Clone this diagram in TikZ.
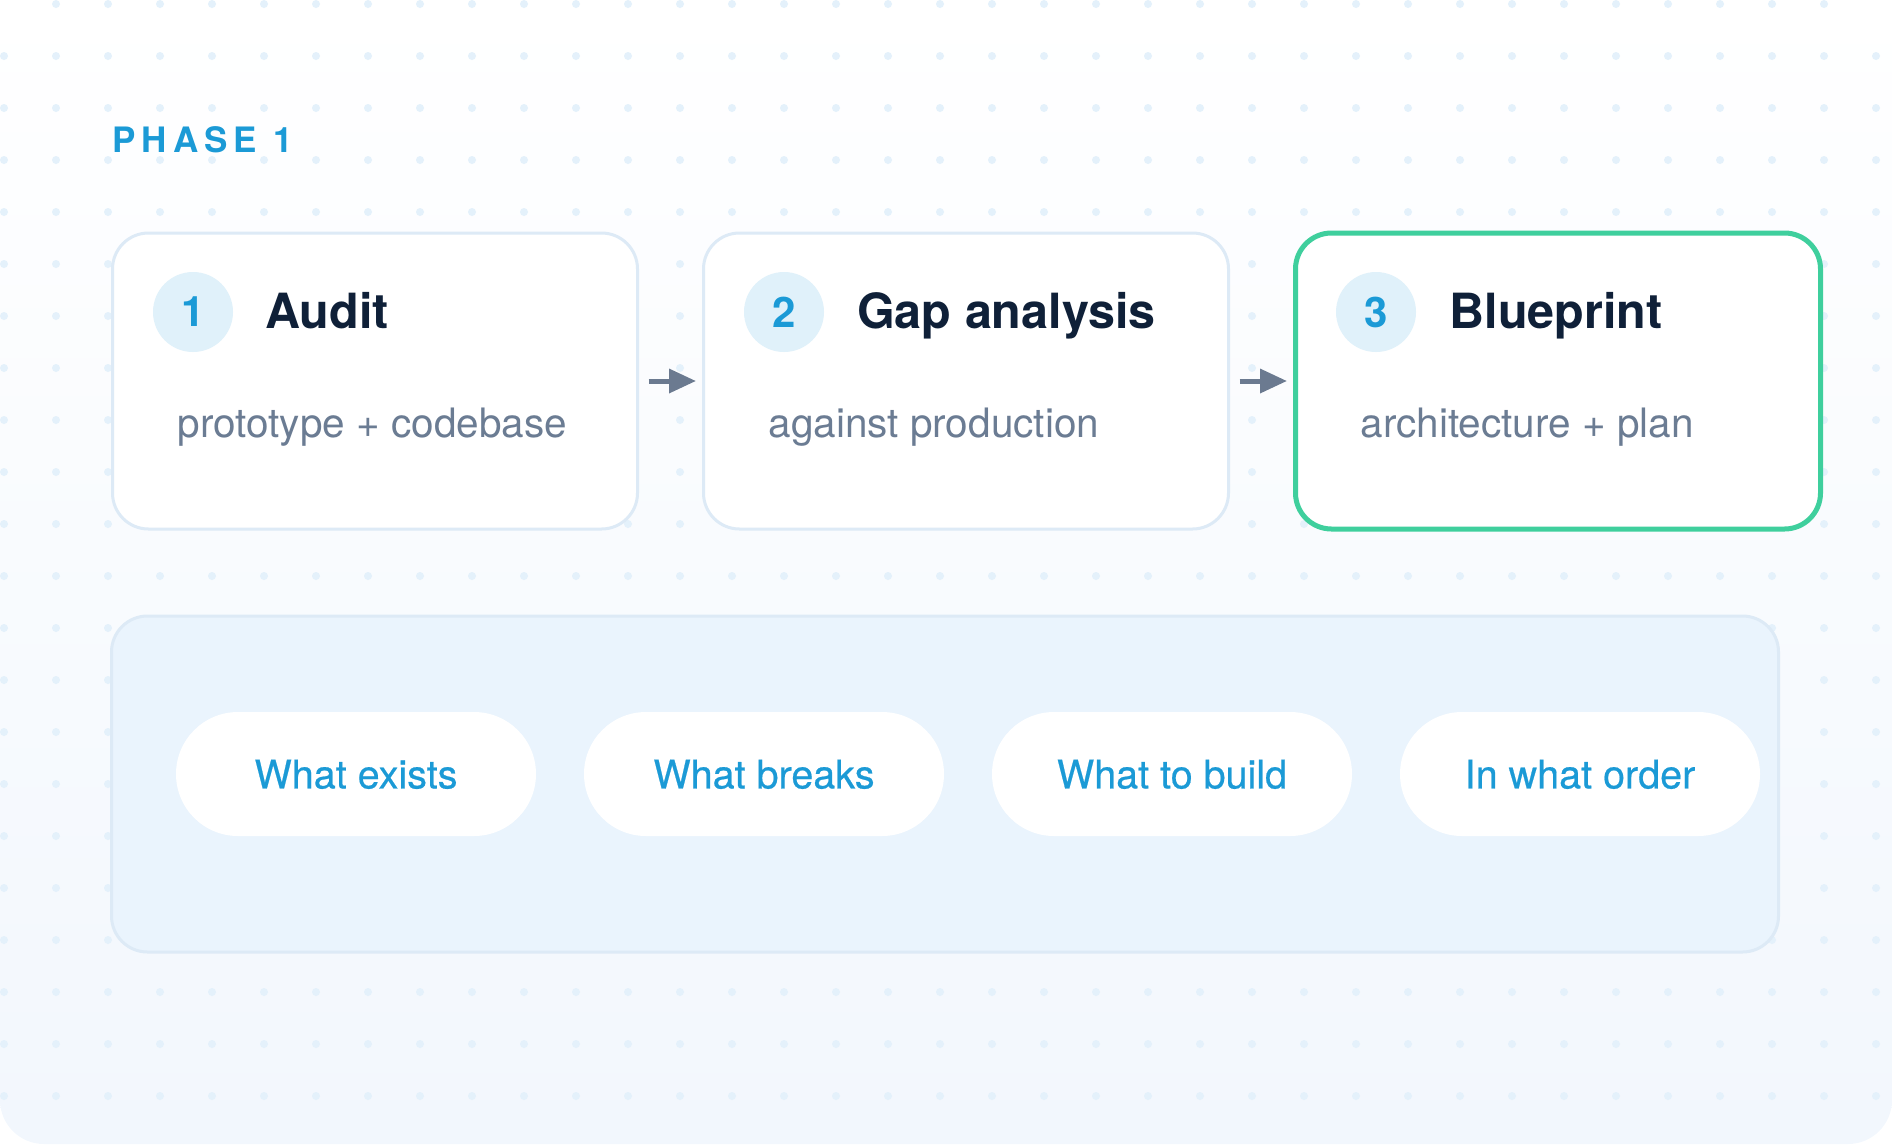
\documentclass[tikz,border=0pt]{standalone}
\usepackage{fontspec}
\setmainfont{TeX Gyre Heros}
\newfontfamily\phasefont{TeX Gyre Heros}[LetterSpace=17.5]
\newfontfamily\pillfont{TeX Gyre Heros}[FakeBold=0.5]
\usetikzlibrary{arrows.meta}

\definecolor{accent}{HTML}{1B9AD6}
\definecolor{ink}{HTML}{0F2038}
\definecolor{muted}{HTML}{6B7C93}
\definecolor{numfill}{HTML}{E0F1FA}
\definecolor{boxline}{HTML}{DDEAF6}
\definecolor{done}{HTML}{3FCF9D}
\definecolor{arrowgrey}{HTML}{6B7A90}
\definecolor{panelfill}{HTML}{EAF4FD}
\definecolor{griddot}{HTML}{E4F1FB}
\definecolor{backlow}{HTML}{F2F7FD}

\tikzset{
  phaselabel/.style={anchor=base west,inner sep=0pt,text=accent,
    font=\phasefont\bfseries\fontsize{35}{40}\selectfont},
  stagebox/.style={draw=boxline,line width=3pt,fill=white,rounded corners=36pt,
    minimum width=525pt,minimum height=296pt,inner sep=0pt},
  numdot/.style={circle,fill=numfill,minimum size=80pt,inner sep=0pt,text=accent,
    font=\bfseries\fontsize{42}{46}\selectfont},
  stagetitle/.style={anchor=base west,inner sep=0pt,text=ink,
    font=\bfseries\fontsize{48.5}{52}\selectfont},
  stagenote/.style={anchor=base west,inner sep=0pt,text=muted,
    font=\fontsize{40.5}{44}\selectfont},
  stagearrow/.style={draw=arrowgrey,line width=5pt,shorten <=9.5pt,shorten >=6pt,
    -{Triangle[length=27pt,width=23.5pt]}},
  panelbox/.style={draw=boxline,line width=3pt,fill=panelfill,rounded corners=36pt,
    minimum width=1667pt,minimum height=336pt,inner sep=0pt},
  pill/.style={fill=white,rounded corners=62pt,minimum width=360pt,minimum height=124pt,
    inner sep=0pt,text=accent,text depth=0pt,font=\pillfont\fontsize{39.5}{44}\selectfont}
}

\begin{document}
\begin{tikzpicture}[x=1pt,y=-1pt]
   \useasboundingbox (0,0) rectangle (1892,1144);
   % backdrop with dot grid
   \shade[top color=white,bottom color=backlow,rounded corners=44pt] (0,0) rectangle (1892,1144);
   \begin{scope}
     \clip[rounded corners=44pt] (0,0) rectangle (1892,1144);
     \foreach \i in {0,...,36}
       \foreach \j in {0,...,21}
         \fill[griddot] (4+52*\i,4+52*\j) circle (4pt);
   \end{scope}

   \path (112,152.5) node[phaselabel] (phase) {PHASE 1};

   % stages
   \path (375,381) node[stagebox] (audit) {};
   \path (966,381) node[stagebox] (gap) {};
   \path (1558,381) node[stagebox,draw=done,line width=5pt] (blueprint) {};

   \path (193,312) node[numdot] (n1) {1};
   \path (265,328.5) node[stagetitle] (t1) {Audit};
   \path (177.5,437) node[stagenote] (s1) {prototype + codebase};

   \path (784,312) node[numdot] (n2) {2};
   \path (857,328.5) node[stagetitle] (t2) {Gap analysis};
   \path (768.5,437) node[stagenote] (s2) {against production};

   \path (1376,312) node[numdot] (n3) {3};
   \path (1449.5,328.5) node[stagetitle] (t3) {Blueprint};
   \path (1360.5,437) node[stagenote] (s3) {architecture + plan};

   \draw[stagearrow] (audit) -- (gap);
   \draw[stagearrow] (gap) -- (blueprint);

   % questions
   \path (945,784) node[panelbox] (panel) {};
   \path (356,774) node[pill] (q1) {What exists};
   \path (764,774) node[pill] (q2) {What breaks};
   \path (1172,774) node[pill] (q3) {What to build};
   \path (1580,774) node[pill] (q4) {In what order};
\end{tikzpicture}
\end{document}
